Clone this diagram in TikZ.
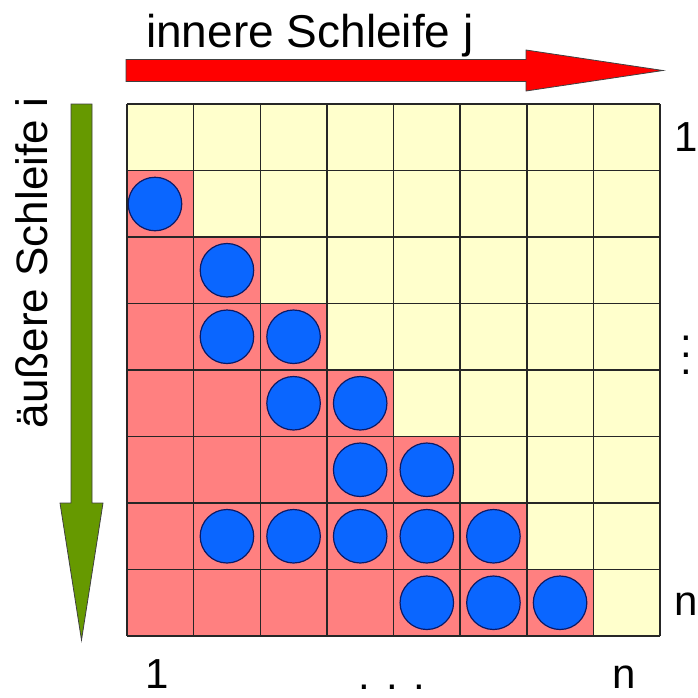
\documentclass[tikz,border=0pt]{standalone}
\usepackage{fontspec}
\setmainfont{Liberation Sans}
\definecolor{cellyellow}{HTML}{FFFFCC}
\definecolor{cellpink}{HTML}{FF8080}
\definecolor{dotblue}{HTML}{0A66FF}
\definecolor{dotrim}{HTML}{0A1A66}
\definecolor{arrred}{HTML}{FF0000}
\definecolor{arrgreen}{HTML}{669900}
\begin{document}
\begin{tikzpicture}[x=1pt,y=-1pt,
  gridline/.style={draw=black!85,line width=1.5pt},
  dot/.style={circle,fill=dotblue,draw=dotrim,line width=1.2pt,minimum size=53.5pt,inner sep=0pt},
  lbl/.style={font=\fontsize{42}{50}\selectfont,inner sep=0pt},
  title/.style={font=\fontsize{46}{55}\selectfont,inner sep=0pt},
  bigarrow/.style={draw=black!75,line width=0.8pt,line join=miter}]
\useasboundingbox (0,0) rectangle (698,697);
\fill[white] (0,0) rectangle (698,697);
% cells
\foreach \r in {1,...,8}{\foreach \c in {1,...,8}{
  \ifnum\c<\r \def\cellcol{cellpink}\else\def\cellcol{cellyellow}\fi
  \fill[\cellcol] ({127+(\c-1)*66.625},{104+(\r-1)*66.5}) rectangle ++(66.625,66.5);
}}
\foreach \i in {0,...,8}{
  \draw[gridline] ({127+\i*66.625},104) -- ({127+\i*66.625},636);
  \draw[gridline] (127,{104+\i*66.5}) -- (660,{104+\i*66.5});
}
% circles
\node[dot] (d21) at (155,204) {};
\foreach \r/\c in {3/2,4/2,4/3,5/3,5/4,6/4,6/5,7/2,7/3,7/4,7/5,7/6,8/5,8/6,8/7}{
  \node[dot] (d\r\c) at ({127+(\c-0.5)*66.625},{104+(\r-0.5)*66.5}) {};
}
% arrows
\draw[bigarrow,fill=arrred] (126,59.5) -- (526,59.5) -- (526,50) -- (663,70.5) -- (526,91) -- (526,81.5) -- (126,81.5) -- cycle;
\draw[bigarrow,fill=arrgreen] (71,104) -- (92,104) -- (92,503) -- (103,503) -- (81.5,640) -- (60,503) -- (71,503) -- cycle;
% texts
\node[title,anchor=base west] (ti) at (146,47) {innere Schleife j};
\node[title,font=\fontsize{44}{52}\selectfont,rotate=90,anchor=base] (to) at (47,263) {äußere Schleife i};
\node[lbl,anchor=base] (r1) at (686,151) {1};
\node[lbl,anchor=base] (rn) at (686,615) {n};
\node[lbl,align=center,font=\fontsize{42}{17}\selectfont] (rd) at (686,355) {.\\.\\.};
\node[lbl,anchor=base] (b1) at (157,688) {1};
\node[lbl,anchor=base] (bn) at (624,688) {n};
\node[lbl] (bd) at (392,687) {. . .};
\end{tikzpicture}
\end{document}
